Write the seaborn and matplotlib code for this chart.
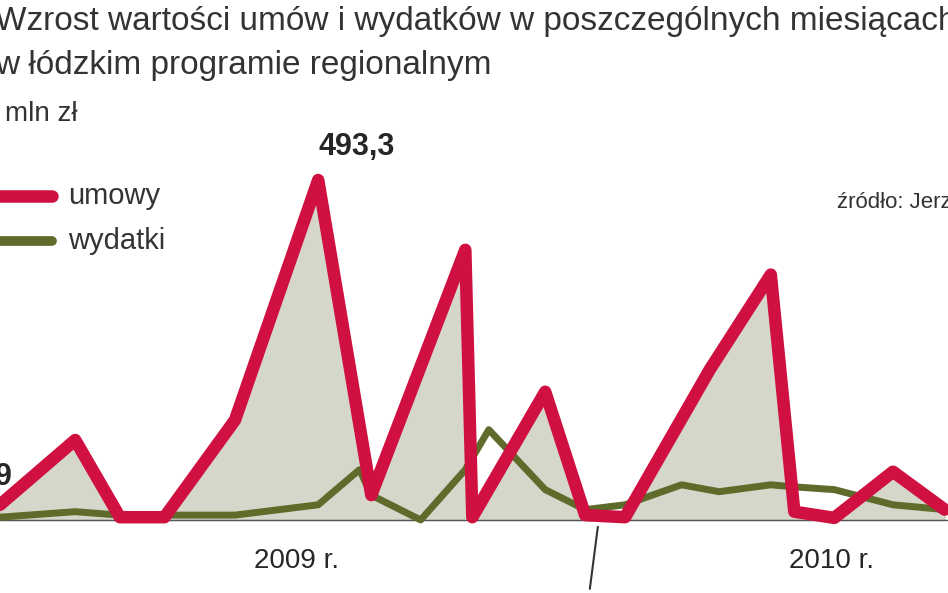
import seaborn as sns
import matplotlib.pyplot as plt
import pandas as pd

# miesiące (pozycje na osi) i wartości w mln zł
umowy_x = [0, 1.6, 2.55, 3.5, 5.0, 6.77, 7.9, 9.9, 10.05, 11.6, 12.45, 13.3, 15.1, 16.4, 16.9, 17.75, 19.0, 20.1]
umowy_y = [22, 116, 4, 4, 145, 493.3, 36, 392, 4, 186, 7, 4, 218, 356, 12, 3, 70, 15]

wyd_x = [0, 1.6, 2.55, 3.5, 5.0, 6.77, 7.65, 7.9, 8.95, 9.9, 10.4, 11.6, 12.45, 13.3, 14.5, 15.3, 16.4, 16.9, 17.75, 19.0, 20.1]
wyd_y = [4, 12, 7, 7, 7, 22, 73, 36, 0, 73, 131, 44, 15, 22, 51, 41, 51, 48, 44, 22, 15]

czerwony = "#cf1040"
oliwka = "#5e6b2b"

sns.set_style("white")
plt.rcParams["font.family"] = ["Liberation Sans", "DejaVu Sans"]

fig = plt.figure(figsize=(9.48, 5.93), dpi=100)
ax = fig.add_axes([0, 0, 1, 1])

df_u = pd.DataFrame({"x": umowy_x, "y": umowy_y})
df_w = pd.DataFrame({"x": wyd_x, "y": wyd_y})

# zacieniowane pole pod krzywymi
ax.fill_between(umowy_x, umowy_y, 0, color="#8a8f6a", alpha=0.35, zorder=1)
ax.axhline(0, color="#555555", lw=1, zorder=1)

sns.lineplot(data=df_w, x="x", y="y", ax=ax, color=oliwka, lw=5, zorder=2,
             solid_joinstyle="round")
sns.lineplot(data=df_u, x="x", y="y", ax=ax, color=czerwony, lw=9, zorder=3,
             solid_joinstyle="round")

ax.set_xlim(0, 948 / 47)
ax.set_ylim(-106, 754.5)
ax.axis("off")

fig.text(-0.005, 0.99, "Wzrost wartości umów i wydatków w poszczególnych miesiącach",
         fontsize=24, color="#333333", va="top")
fig.text(-0.005, 0.915, "w łódzkim programie regionalnym", fontsize=24, color="#333333", va="top")
fig.text(0.005, 0.83, "mln zł", fontsize=20, color="#333333", va="top")

ax.text(6.77, 520, "493,3", fontsize=22, fontweight="bold", ha="left", va="bottom")
ax.text(-0.1, 40, "9", fontsize=22, fontweight="bold", ha="left", va="bottom")

# legenda
ax.plot([-0.3, 1.1], [470, 470], color=czerwony, lw=9, solid_capstyle="round")
ax.plot([-0.3, 1.1], [405, 405], color=oliwka, lw=7, solid_capstyle="round")
ax.text(1.45, 470, "umowy", fontsize=21, color="#333333", va="center")
ax.text(1.45, 405, "wydatki", fontsize=21, color="#333333", va="center")
ax.text(17.8, 460, "źródło: Jerzy Kwieciński", fontsize=16, color="#333333", va="center")

ax.text(6.3, -60, "2009 r.", fontsize=20, ha="center", va="center")
ax.text(17.7, -60, "2010 r.", fontsize=20, ha="center", va="center")
ax.plot([12.72, 12.55], [-10, -100], color="#333333", lw=1.5)

fig.savefig("out.png", dpi=100)
